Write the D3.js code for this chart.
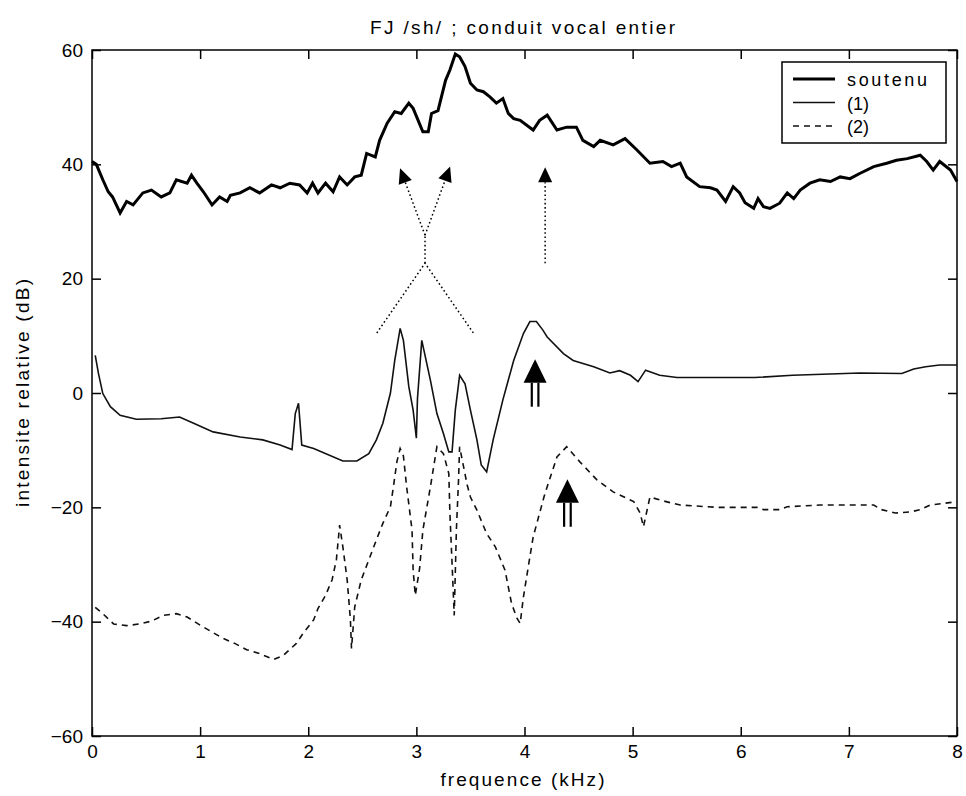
<!DOCTYPE html>
<html><head><meta charset="utf-8">
<script src="https://cdn.jsdelivr.net/npm/d3@7/dist/d3.min.js"></script>
<style>
body{margin:0;background:#fff}
text{font-family:"Liberation Sans",Arial,sans-serif;fill:#000}
</style>
</head><body>
<svg id="chart" width="966" height="796"></svg>
<script>
// ---------- data ----------
const title = "FJ /sh/ ; conduit vocal entier";
const xLabel = "frequence (kHz)";
const yLabel = "intensite relative (dB)";
const xTicks = [0,1,2,3,4,5,6,7,8];
const yTicks = [-60,-40,-20,0,20,40,60];
const seriesNames = ["soutenu","(1)","(2)"];

const soutenuFreq = [0.00,0.04,0.10,0.15,0.19,0.26,0.32,0.38,0.47,0.55,0.64,0.72,0.78,0.88,0.92,0.97,1.03,1.11,1.18,1.25,1.28,1.37,1.46,1.55,1.66,1.74,1.83,1.92,1.99,2.04,2.09,2.16,2.23,2.29,2.36,2.43,2.49,2.54,2.62,2.66,2.73,2.80,2.86,2.93,2.97,3.06,3.11,3.14,3.20,3.27,3.31,3.36,3.40,3.45,3.50,3.56,3.62,3.68,3.74,3.80,3.85,3.90,3.96,4.08,4.14,4.21,4.30,4.39,4.48,4.54,4.64,4.70,4.82,4.93,5.04,5.16,5.28,5.36,5.44,5.50,5.62,5.72,5.78,5.86,5.93,5.99,6.04,6.12,6.16,6.21,6.27,6.36,6.43,6.49,6.55,6.64,6.73,6.83,6.92,7.01,7.10,7.23,7.35,7.44,7.54,7.66,7.72,7.78,7.84,7.94,8.00];
const soutenuDb   = [40.5,40.0,37.3,35.2,34.3,31.5,33.5,32.9,35.0,35.5,34.3,35.0,37.3,36.7,38.1,36.7,35.2,32.9,34.3,33.5,34.6,35.0,35.9,35.0,36.4,35.9,36.7,36.4,35.0,36.7,35.0,36.7,35.2,37.8,36.4,37.8,38.1,41.9,41.3,44.2,47.2,49.2,48.9,50.7,49.8,45.7,45.7,48.9,49.4,54.7,56.5,59.3,58.8,57.1,54.2,53.0,52.7,51.8,50.7,51.5,48.9,48.0,47.7,46.0,47.7,48.6,46.0,46.5,46.5,44.2,43.1,44.2,43.4,44.5,42.5,40.2,40.5,39.6,40.2,37.8,36.1,35.9,35.5,33.5,36.1,35.0,33.3,32.3,34.0,32.6,32.3,33.2,35.0,34.0,35.5,36.7,37.3,37.0,37.8,37.5,38.4,39.6,40.2,40.7,41.0,41.6,40.5,39.0,40.5,39.0,37.0];

const s1Freq = [0.03,0.06,0.10,0.17,0.26,0.41,0.64,0.81,0.94,1.12,1.37,1.58,1.74,1.85,1.88,1.91,1.94,2.05,2.32,2.45,2.56,2.63,2.69,2.76,2.80,2.85,2.88,2.93,2.97,3.00,3.01,3.05,3.13,3.19,3.25,3.30,3.33,3.36,3.40,3.45,3.50,3.56,3.60,3.65,3.71,3.80,3.90,3.99,4.05,4.11,4.17,4.21,4.36,4.45,4.64,4.79,4.88,4.98,5.05,5.12,5.25,5.41,6.13,6.48,7.10,7.49,7.60,7.71,7.84,8.00];
const s1Db   = [6.6,3.4,-0.1,-2.4,-3.9,-4.6,-4.5,-4.2,-5.3,-6.8,-7.7,-8.2,-9.1,-9.9,-3.6,-1.8,-9.1,-9.7,-11.9,-11.9,-10.6,-8.2,-5.3,0.0,5.7,11.3,9.2,1.1,-3.0,-7.9,-1.0,9.2,2.2,-3.6,-7.1,-10.3,-10.3,-3.0,3.1,1.6,-3.0,-8.2,-12.6,-13.8,-8.2,-1.2,5.7,10.4,12.5,12.5,11.0,9.8,6.9,5.7,4.6,3.5,3.9,3.1,2.0,4.0,3.1,2.7,2.7,3.1,3.5,3.4,4.2,4.6,4.9,4.9];

const s2Freq = [0.03,0.10,0.20,0.32,0.44,0.55,0.66,0.78,0.88,1.00,1.11,1.21,1.32,1.43,1.55,1.68,1.77,1.89,1.95,2.05,2.09,2.16,2.22,2.26,2.28,2.29,2.32,2.36,2.39,2.40,2.43,2.49,2.57,2.63,2.69,2.76,2.79,2.82,2.85,2.88,2.91,2.96,2.97,2.99,3.03,3.06,3.13,3.19,3.25,3.30,3.31,3.33,3.35,3.37,3.39,3.40,3.47,3.50,3.56,3.65,3.73,3.82,3.88,3.93,3.96,3.99,4.04,4.08,4.13,4.18,4.22,4.30,4.39,4.51,4.67,4.82,5.01,5.07,5.10,5.16,5.25,5.35,5.44,5.78,6.15,6.21,6.36,6.43,6.73,7.23,7.30,7.43,7.57,7.66,7.75,7.88,8.00];
const s2Db   = [-37.5,-38.6,-40.4,-40.7,-40.4,-39.9,-38.9,-38.6,-39.2,-40.6,-41.8,-42.9,-43.8,-44.9,-45.6,-46.6,-45.9,-43.8,-42.1,-39.7,-37.7,-35.4,-32.7,-29.2,-25.2,-23.1,-26.9,-32.7,-39.7,-44.7,-37.4,-32.7,-28.7,-25.7,-22.8,-19.9,-16.1,-12.0,-9.7,-11.0,-16.4,-24.0,-31.0,-35.4,-30.7,-24.0,-16.4,-9.4,-10.6,-14.1,-21.0,-29.8,-38.9,-24.0,-15.2,-9.4,-16.1,-18.2,-20.5,-24.6,-26.9,-31.0,-36.8,-39.4,-40.3,-35.7,-29.8,-25.2,-21.7,-18.2,-15.8,-11.2,-9.4,-12.0,-15.2,-17.3,-19.0,-21.0,-23.4,-18.2,-18.7,-19.2,-19.6,-20.0,-20.0,-20.4,-20.4,-19.9,-19.6,-19.6,-20.4,-21.0,-20.8,-20.4,-19.6,-19.3,-19.0];

// annotation geometry in data units (kHz, dB)
const crossLower = [[2.634,10.5],[3.08,22.7],[3.527,10.5]];
const crossStem  = [[3.08,22.7],[3.08,27.6]];
const dottedArrows = [[[3.08,27.6],[2.849,39.3]],[[3.08,27.6],[3.312,39.6]],[[4.191,22.7],[4.191,39.5]]];
// thick arrows: centre kHz, tip dB, base dB, shaft bottom dB
const bigArrowX    = [4.098, 4.397];
const bigArrowTip  = [5.9, -15.1];
const bigArrowBase = [1.8, -19.2];
const bigArrowEnd  = [-2.4, -23.4];

// ---------- layout ----------
const svg = d3.select("#chart");
const L = 92, R = 957, T = 50, B = 736;
const x = d3.scaleLinear().domain([0,8]).range([L,R]);
const y = d3.scaleLinear().domain([-60,60]).range([B,T]);

const line = d3.line().x(d=>x(d[0])).y(d=>y(d[1]));
const zip = (a,b)=>a.map((v,i)=>[v,b[i]]);

svg.append("rect").attr("x",L).attr("y",T).attr("width",R-L).attr("height",B-T)
  .attr("fill","none").attr("stroke","#000").attr("stroke-width",1.5);

const fontSize = 19;
const ax = (g)=>{ g.select(".domain").remove(); g.selectAll("line").attr("stroke","#000").attr("stroke-width",1.5); g.selectAll("text").attr("font-size",fontSize).attr("font-family",'"Liberation Sans",Arial,sans-serif'); };
svg.append("g").attr("transform",`translate(0,${B})`)
  .call(d3.axisBottom(x).tickValues(xTicks).tickSize(-9).tickPadding(9).tickFormat(d3.format("d"))).call(ax);
svg.append("g").attr("transform",`translate(0,${T})`)
  .call(d3.axisTop(x).tickValues(xTicks).tickSize(-9).tickFormat("")).call(ax);
svg.append("g").attr("transform",`translate(${L},0)`)
  .call(d3.axisLeft(y).tickValues(yTicks).tickSize(-9).tickPadding(9).tickFormat(d3.format("d"))).call(ax);
svg.append("g").attr("transform",`translate(${R},0)`)
  .call(d3.axisRight(y).tickValues(yTicks).tickSize(-9).tickFormat("")).call(ax);

svg.append("text").attr("x",(L+R)/2-2).attr("y",34).attr("text-anchor","middle")
  .attr("font-size",19).attr("textLength",305).attr("lengthAdjust","spacing").text(title);
svg.append("text").attr("x",(L+R)/2-2).attr("y",786).attr("text-anchor","middle")
  .attr("font-size",19).attr("textLength",164).attr("lengthAdjust","spacing").text(xLabel);
svg.append("text").attr("transform",`translate(29,${(T+B)/2}) rotate(-90)`).attr("text-anchor","middle")
  .attr("font-size",19).attr("textLength",228).attr("lengthAdjust","spacing").text(yLabel);

const styles = [
  {w:3, dash:null, col:"#000"},
  {w:1.6, dash:null, col:"#111"},
  {w:1.6, dash:"6,5", col:"#111"}
];
const series = [zip(soutenuFreq,soutenuDb), zip(s1Freq,s1Db), zip(s2Freq,s2Db)];
series.forEach((s,i)=>{
  svg.append("path").datum(s).attr("d",line).attr("fill","none")
    .attr("stroke",styles[i].col).attr("stroke-width",styles[i].w)
    .attr("stroke-linejoin","miter").attr("stroke-dasharray",styles[i].dash);
});

const dot = "1.6,2.6";
[crossLower, crossStem].forEach(p=>{
  svg.append("path").datum(p).attr("d",line).attr("fill","none")
    .attr("stroke","#000").attr("stroke-width",1.5).attr("stroke-dasharray",dot);
});
dottedArrows.forEach(p=>{
  const [a,b] = p;
  const x0=x(a[0]), y0=y(a[1]), x1=x(b[0]), y1=y(b[1]);
  const ang = Math.atan2(y1-y0, x1-x0);
  const hl = 15, hw = 7;
  const bx = x1 - hl*Math.cos(ang), by = y1 - hl*Math.sin(ang);
  svg.append("line").attr("x1",x0).attr("y1",y0).attr("x2",bx).attr("y2",by)
    .attr("stroke","#000").attr("stroke-width",1.5).attr("stroke-dasharray",dot);
  const px = -Math.sin(ang), py = Math.cos(ang);
  svg.append("path").attr("d",`M${x1},${y1}L${bx+hw*px},${by+hw*py}L${bx-hw*px},${by-hw*py}Z`).attr("fill","#000");
});

bigArrowX.forEach((cx,i)=>{
  const xc = x(cx), yt = y(bigArrowTip[i]), yb = y(bigArrowBase[i]), ye = y(bigArrowEnd[i]);
  const hw = 11.5, sh = 3.3;
  svg.append("path").attr("d",`M${xc},${yt}L${xc+hw},${yb}L${xc-hw},${yb}Z`).attr("fill","#000");
  [-sh, sh].forEach(o=>svg.append("line").attr("x1",xc+o).attr("x2",xc+o).attr("y1",yb).attr("y2",ye)
     .attr("stroke","#000").attr("stroke-width",2.2));
});

const lg = svg.append("g");
lg.append("rect").attr("x",782).attr("y",62).attr("width",164).attr("height",81)
  .attr("fill","#fff").attr("stroke","#000").attr("stroke-width",1.5);
seriesNames.forEach((n,i)=>{
  const yy = 79 + i*23.5;
  lg.append("line").attr("x1",793).attr("x2",835).attr("y1",yy).attr("y2",yy)
    .attr("stroke",styles[i].col).attr("stroke-width",styles[i].w).attr("stroke-dasharray",styles[i].dash);
  const t = lg.append("text").attr("x",847).attr("y",yy+7).attr("font-size",18).text(n);
  if(i===0) t.attr("textLength",80).attr("lengthAdjust","spacing");
});
</script>
</body></html>
